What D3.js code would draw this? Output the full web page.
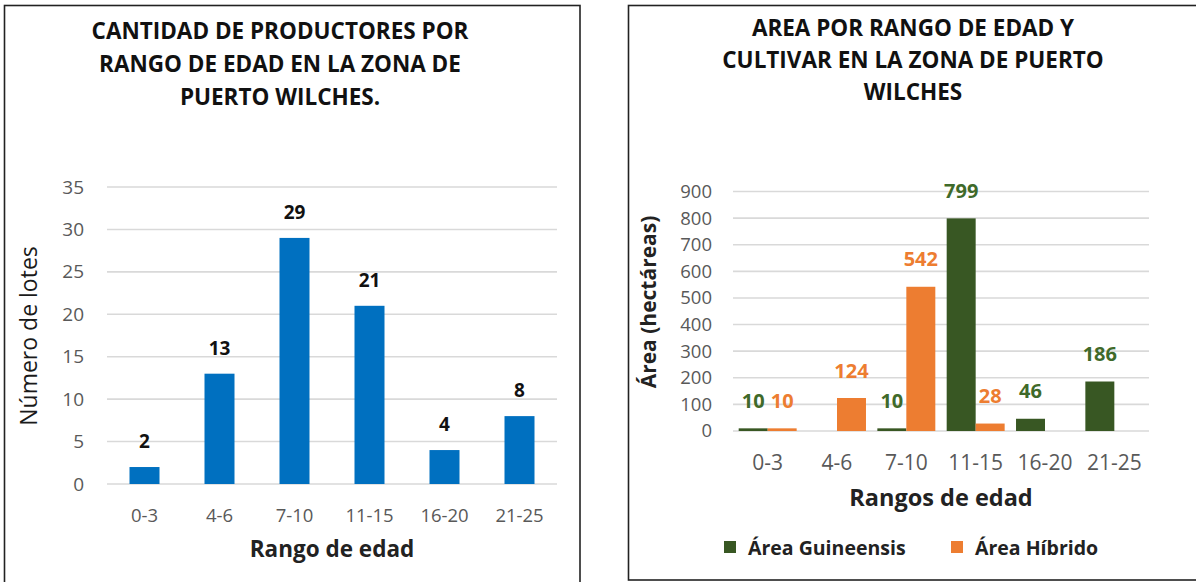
<!DOCTYPE html>
<html><head><meta charset="utf-8">
<script src="https://cdn.jsdelivr.net/npm/d3@7"></script>
<style>
body{margin:0;background:#fff;}
svg{display:block;}
text{font-family:"Open Sans",Lato,sans-serif;}
</style></head>
<body><svg id="c" width="1196" height="582"></svg>
<script>
// ---- data ----
const categories = ["0-3","4-6","7-10","11-15","16-20","21-25"];
const lotes = [2,13,29,21,4,8];
const areaGuineensis = [10,0,10,799,46,186];
const areaHibrido = [10,124,542,28,0,0];
const leftTicks = [0,5,10,15,20,25,30,35];
const rightTicks = [0,100,200,300,400,500,600,700,800,900];
const leftTitle = ["CANTIDAD DE PRODUCTORES POR","RANGO DE EDAD EN LA ZONA DE","PUERTO WILCHES."];
const rightTitle = ["AREA POR RANGO DE EDAD Y","CULTIVAR EN LA ZONA DE PUERTO","WILCHES"];
const seriesNames = ["Área Guineensis","Área Híbrido"];

const BLUE="#0070C0", GREEN="#385723", ORANGE="#ED7D31", GRID="#d9d9d9", TICK="#595959";
const FONT = "Open Sans";
const svg = d3.select("#c");

// panel borders
svg.append("rect").attr("x",4.5).attr("y",5.5).attr("width",575.5).attr("height",580)
  .attr("fill","none").attr("stroke","#222").attr("stroke-width",1.6);
svg.append("rect").attr("x",628.5).attr("y",5.5).attr("width",575).attr("height",574.5)
  .attr("fill","none").attr("stroke","#222").attr("stroke-width",1.6);

// ---------- LEFT CHART ----------
const xL = d3.scaleBand().domain(categories).range([107,557]).paddingInner(0.6).paddingOuter(0.3);
const yL = d3.scaleLinear().domain([0,35]).range([484,187]);
const gL = svg.append("g");
leftTitle.forEach((t,i)=>gL.append("text").attr("x",280).attr("y",30+i*33)
  .attr("text-anchor","middle").attr("dominant-baseline","central")
  .attr("font-size",22.5).attr("font-weight","bold").attr("fill","#111").text(t));
gL.append("g").selectAll("line").data(leftTicks).join("line")
  .attr("x1",107).attr("x2",557).attr("y1",d=>yL(d)).attr("y2",d=>yL(d))
  .attr("stroke",GRID).attr("stroke-width",1.6);
const axL = d3.axisLeft(yL).tickValues(leftTicks).tickSize(0).tickPadding(0);
const gAxL = gL.append("g").attr("transform","translate(84,0)").call(axL);
gAxL.select(".domain").remove();
gAxL.selectAll("text").attr("font-size",19).attr("fill",TICK).attr("font-family",FONT);
const axLx = d3.axisBottom(xL).tickSize(0).tickPadding(0);
const gAxLx = gL.append("g").attr("transform","translate(0,516)").call(axLx);
gAxLx.select(".domain").remove();
gAxLx.selectAll("text").attr("font-size",18.5).attr("fill",TICK).attr("dy","0.35em").attr("font-family",FONT);
gL.selectAll("rect.bar").data(lotes).join("rect").attr("class","bar")
  .attr("x",(d,i)=>xL(categories[i])).attr("width",xL.bandwidth())
  .attr("y",d=>yL(d)).attr("height",d=>yL(0)-yL(d)).attr("fill",BLUE);
gL.selectAll("text.lbl").data(lotes).join("text").attr("class","lbl")
  .attr("x",(d,i)=>xL(categories[i])+xL.bandwidth()/2).attr("y",d=>yL(d)-26)
  .attr("text-anchor","middle").attr("dominant-baseline","central")
  .attr("font-size",19).attr("font-weight","bold").attr("fill","#111").text(d=>d);
gL.append("text").attr("x",332).attr("y",548).attr("text-anchor","middle").attr("dominant-baseline","central")
  .attr("font-size",22.5).attr("font-weight","bold").attr("fill","#222").text("Rango de edad");
gL.append("text").attr("transform","translate(28,336) rotate(-90)").attr("text-anchor","middle")
  .attr("dominant-baseline","central").attr("font-size",23).attr("fill","#1a1a1a").text("Número de lotes");

// ---------- RIGHT CHART ----------
const x0 = d3.scaleBand().domain(categories).range([733,1149]).paddingInner(0.164).paddingOuter(0.082);
const x1 = d3.scaleBand().domain(seriesNames).range([0,x0.bandwidth()]).padding(0);
const yR = d3.scaleLinear().domain([0,900]).range([431,191.5]);
const gR = svg.append("g");
rightTitle.forEach((t,i)=>gR.append("text").attr("x",913).attr("y",27.5+i*32)
  .attr("text-anchor","middle").attr("dominant-baseline","central")
  .attr("font-size",22.5).attr("font-weight","bold").attr("fill","#111").text(t));
gR.append("g").selectAll("line").data(rightTicks).join("line")
  .attr("x1",733).attr("x2",1149).attr("y1",d=>yR(d)).attr("y2",d=>yR(d))
  .attr("stroke",GRID).attr("stroke-width",1.6);
const axR = d3.axisLeft(yR).tickValues(rightTicks).tickSize(0).tickPadding(0);
const gAxR = gR.append("g").attr("transform","translate(712,0)").call(axR);
gAxR.select(".domain").remove();
gAxR.selectAll("text").attr("font-size",18.5).attr("fill",TICK).attr("font-family",FONT);
const axRx = d3.axisBottom(x0).tickSize(0).tickPadding(0);
const gAxRx = gR.append("g").attr("transform","translate(0,463)").call(axRx);
gAxRx.select(".domain").remove();
gAxRx.selectAll("text").attr("font-size",21).attr("fill",TICK).attr("dy","0.35em").attr("font-family",FONT);

const series = [
  {name:seriesNames[0], values:areaGuineensis, color:GREEN, label:"#3f6a2a"},
  {name:seriesNames[1], values:areaHibrido, color:ORANGE, label:ORANGE}
];
series.forEach(s=>{
  const pts = s.values.map((v,i)=>({v,c:categories[i]})).filter(p=>p.v>0);
  gR.append("g").selectAll("rect").data(pts).join("rect")
    .attr("x",p=>x0(p.c)+x1(s.name)).attr("width",x1.bandwidth())
    .attr("y",p=>yR(p.v)).attr("height",p=>yR(0)-yR(p.v)).attr("fill",s.color);
  gR.append("g").selectAll("text").data(pts).join("text")
    .attr("x",p=>x0(p.c)+x1(s.name)+x1.bandwidth()/2).attr("y",p=>yR(p.v)-28)
    .attr("text-anchor","middle").attr("dominant-baseline","central")
    .attr("font-size",20).attr("font-weight","bold").attr("fill",s.label).text(p=>p.v);
});
gR.append("text").attr("x",941).attr("y",497).attr("text-anchor","middle").attr("dominant-baseline","central")
  .attr("font-size",23.5).attr("font-weight","bold").attr("fill","#222").text("Rangos de edad");
gR.append("text").attr("transform","translate(648,302) rotate(-90)").attr("text-anchor","middle")
  .attr("dominant-baseline","central").attr("font-size",21).attr("font-weight","bold").attr("fill","#222").text("Área (hectáreas)");

// legend
const leg = gR.append("g");
const legX = [724, 951];
series.forEach((s,i)=>{
  leg.append("rect").attr("x",legX[i]).attr("y",541).attr("width",12).attr("height",12).attr("fill",s.color);
  leg.append("text").attr("x",legX[i]+24).attr("y",547).attr("dominant-baseline","central")
    .attr("font-size",19.5).attr("font-weight","bold").attr("fill","#222").text(s.name);
});
</script></body></html>
